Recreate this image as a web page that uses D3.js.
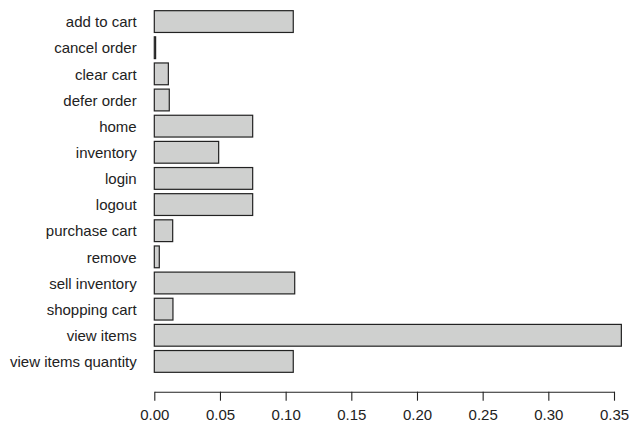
<!DOCTYPE html>
<html>
<head>
<meta charset="utf-8">
<script src="https://cdn.jsdelivr.net/npm/d3@7"></script>
<style>
  html, body { margin: 0; padding: 0; background: #fff; }
  svg text { font-family: "Liberation Sans", Arial, Helvetica, sans-serif; fill: #222; }
</style>
</head>
<body>
<svg id="chart" width="629" height="427"></svg>
<script>
// Share of page events per action
const actions = ["add to cart", "cancel order", "clear cart", "defer order", "home", "inventory",
  "login", "logout", "purchase cart", "remove", "sell inventory", "shopping cart",
  "view items", "view items quantity"];
const shares = [0.1058, 0.0010, 0.0107, 0.0114, 0.0749, 0.0490,
  0.0749, 0.0749, 0.0140, 0.0038, 0.1069, 0.0142,
  0.3556, 0.1058];
const xTicks = [0, 0.05, 0.10, 0.15, 0.20, 0.25, 0.30, 0.35];

const svg = d3.select("#chart");

const x = d3.scaleLinear().domain([0, 0.35]).range([154.3, 614]);
const y = d3.scaleBand().domain(actions).range([8.5, 374.5]).paddingInner(1/6).paddingOuter(1/12);

// bars
svg.append("g").selectAll("rect")
  .data(actions)
  .join("rect")
  .attr("x", x(0))
  .attr("y", d => y(d))
  .attr("width", (d, i) => x(shares[i]) - x(0))
  .attr("height", y.bandwidth())
  .attr("fill", "#cfd0cf")
  .attr("stroke", "#222")
  .attr("stroke-width", 1.2);

// category labels
svg.append("g").selectAll("text")
  .data(actions)
  .join("text")
  .attr("x", 136.7)
  .attr("y", d => y(d) + y.bandwidth() / 2)
  .attr("dy", "0.38em")
  .attr("text-anchor", "end")
  .attr("font-size", 15)
  .text(d => d);

// value axis
const axis = d3.axisBottom(x)
  .tickValues(xTicks)
  .tickFormat(d3.format(".2f"))
  .tickSize(9)
  .tickPadding(9)
  .tickSizeOuter(0);

const gx = svg.append("g")
  .attr("transform", "translate(0,391.7)")
  .call(axis);
gx.select(".domain").attr("stroke", "#222").attr("stroke-width", 1.1);
gx.selectAll(".tick line").attr("stroke", "#222").attr("stroke-width", 1.1);
gx.selectAll(".tick text")
  .attr("font-size", 15)
  .style("font-family", "'Liberation Sans', Arial, Helvetica, sans-serif")
  .attr("fill", "#222");
</script>
</body>
</html>
